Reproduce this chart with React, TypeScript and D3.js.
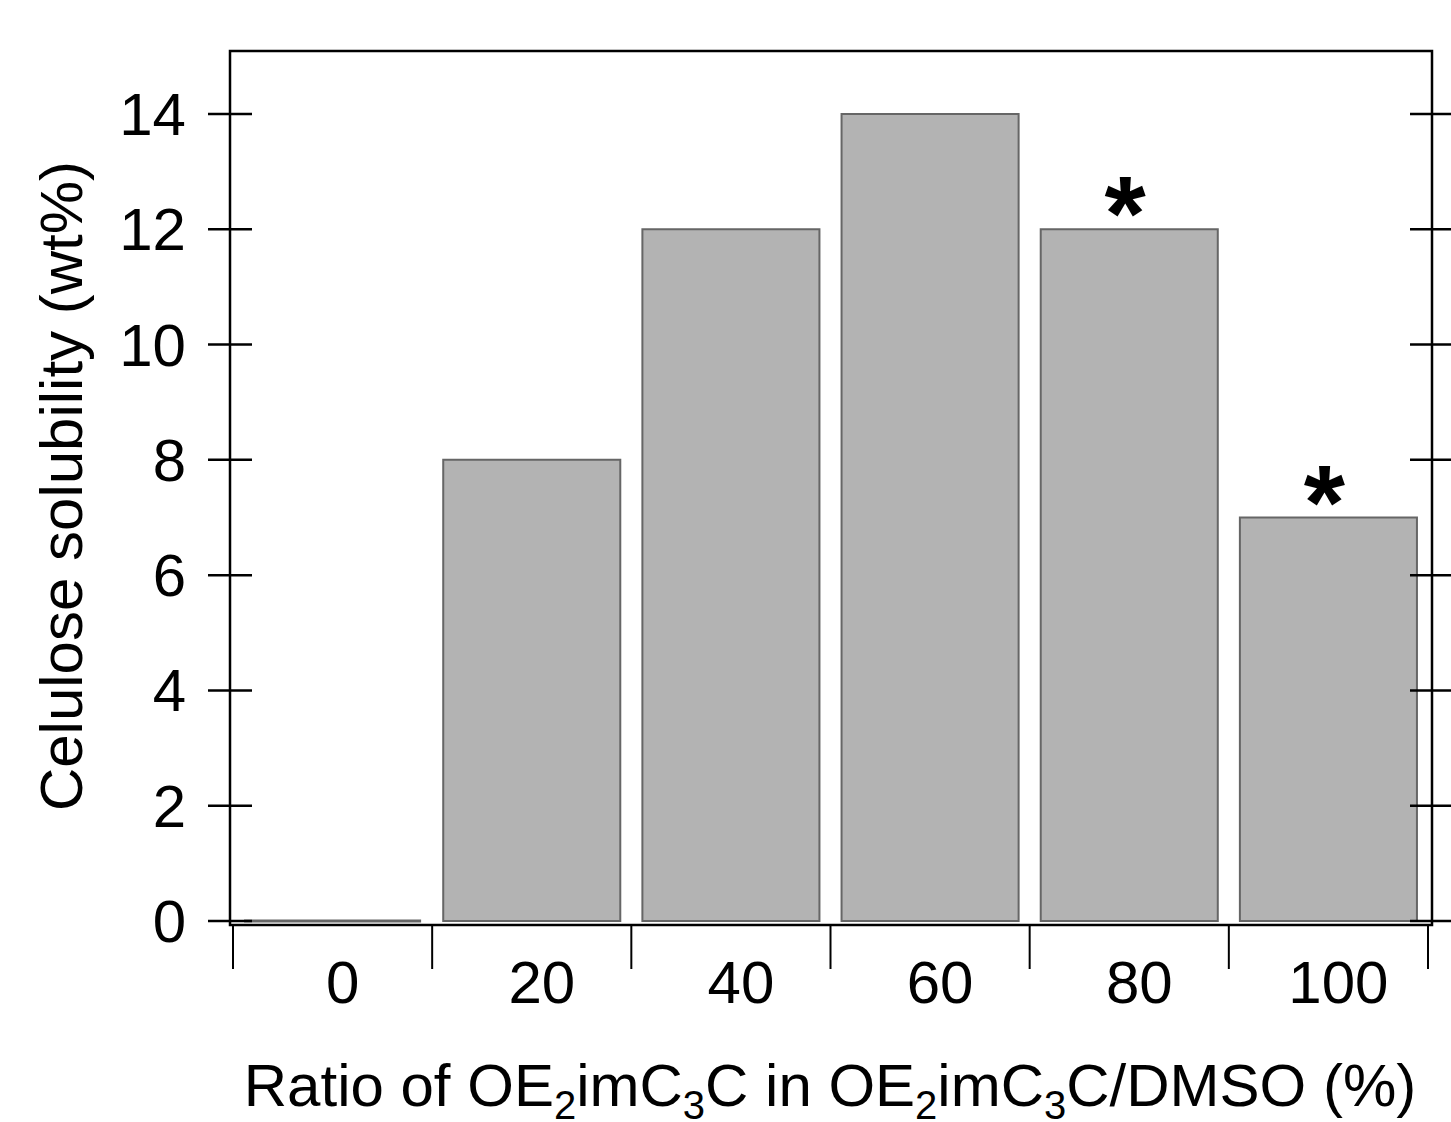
import React from "react";
import * as d3 from "d3";

const categories = ["0", "20", "40", "60", "80", "100"];
const values = [0, 8, 12, 14, 12, 7];
const starred = [false, false, false, false, true, true];
const yTicks = [0, 2, 4, 6, 8, 10, 12, 14];

const W = 1451;
const H = 1122;
const FONT = "'Liberation Sans', Arial, Helvetica, sans-serif";

export default function App() {
  const frameL = 230, frameR = 1432, frameT = 51, frameB = 925;
  const x = d3.scaleBand<string>().domain(categories).range([233, 1428]).paddingInner(0.111).paddingOuter(0.0555);
  const y = d3.scaleLinear().domain([0, 14]).range([921, 114]);
  const step = x.step();
  const boundaries = d3.range(categories.length + 1).map((i) => 233 + i * step);

  const barPath = (c: string, v: number) => {
    const p = d3.path();
    const x0 = x(c)!;
    const w = x.bandwidth();
    p.moveTo(x0, y(0));
    p.lineTo(x0, y(v));
    p.lineTo(x0 + w, y(v));
    p.lineTo(x0 + w, y(0));
    p.closePath();
    return p.toString();
  };

  return (
    <svg width={W} height={H} style={{ display: "block", position: "absolute", left: 0, top: 0 }} fontFamily={FONT}>
      <rect x={0} y={0} width={W} height={H} fill="#fff" />
      {categories.map((c, i) => (
        <path key={c} d={barPath(c, values[i])} fill="#b3b3b3" stroke="#666" strokeWidth={values[i] === 0 ? 3 : 2} />
      ))}
      {/* frame */}
      <path d={`M${frameL},${frameB}V${frameT}H${frameR}V${frameB}Z`} fill="none" stroke="#000" strokeWidth={2.5} />
      {/* y ticks */}
      {yTicks.map((t) => (
        <g key={t}>
          <line x1={208} x2={252} y1={y(t)} y2={y(t)} stroke="#000" strokeWidth={2.5} />
          <line x1={1410} x2={1454} y1={y(t)} y2={y(t)} stroke="#000" strokeWidth={2.5} />
          <text x={186} y={y(t) + 21} fontSize={60} textAnchor="end" fill="#000">{t}</text>
        </g>
      ))}
      {/* x ticks */}
      {boundaries.map((b, i) => (
        <line key={i} x1={b} x2={b} y1={frameB} y2={969} stroke="#000" strokeWidth={2} />
      ))}
      {categories.map((c) => (
        <text key={c} x={x(c)! + x.bandwidth() / 2 + 10} y={1003} fontSize={60} textAnchor="middle" fill="#000">{c}</text>
      ))}
      {/* asterisks */}
      {categories.map((c, i) =>
        starred[i] ? (
          <text key={"s" + c} x={x(c)! + x.bandwidth() / 2 - 4} y={y(values[i]) + 21} fontSize={106} fontWeight="bold" textAnchor="middle" fill="#000">*</text>
        ) : null
      )}
      {/* axis titles */}
      <text transform="translate(82,486) rotate(-90)" fontSize={60} textAnchor="middle" fill="#000">Celulose solubility (wt%)</text>
      <text x={830} y={1106} fontSize={60} textAnchor="middle" fill="#000">
        Ratio of OE<tspan fontSize={40} dy={13}>2</tspan><tspan dy={-13}>imC</tspan><tspan fontSize={40} dy={13}>3</tspan><tspan dy={-13}>C in OE</tspan><tspan fontSize={40} dy={13}>2</tspan><tspan dy={-13}>imC</tspan><tspan fontSize={40} dy={13}>3</tspan><tspan dy={-13}>C/DMSO (%)</tspan>
      </text>
    </svg>
  );
}
